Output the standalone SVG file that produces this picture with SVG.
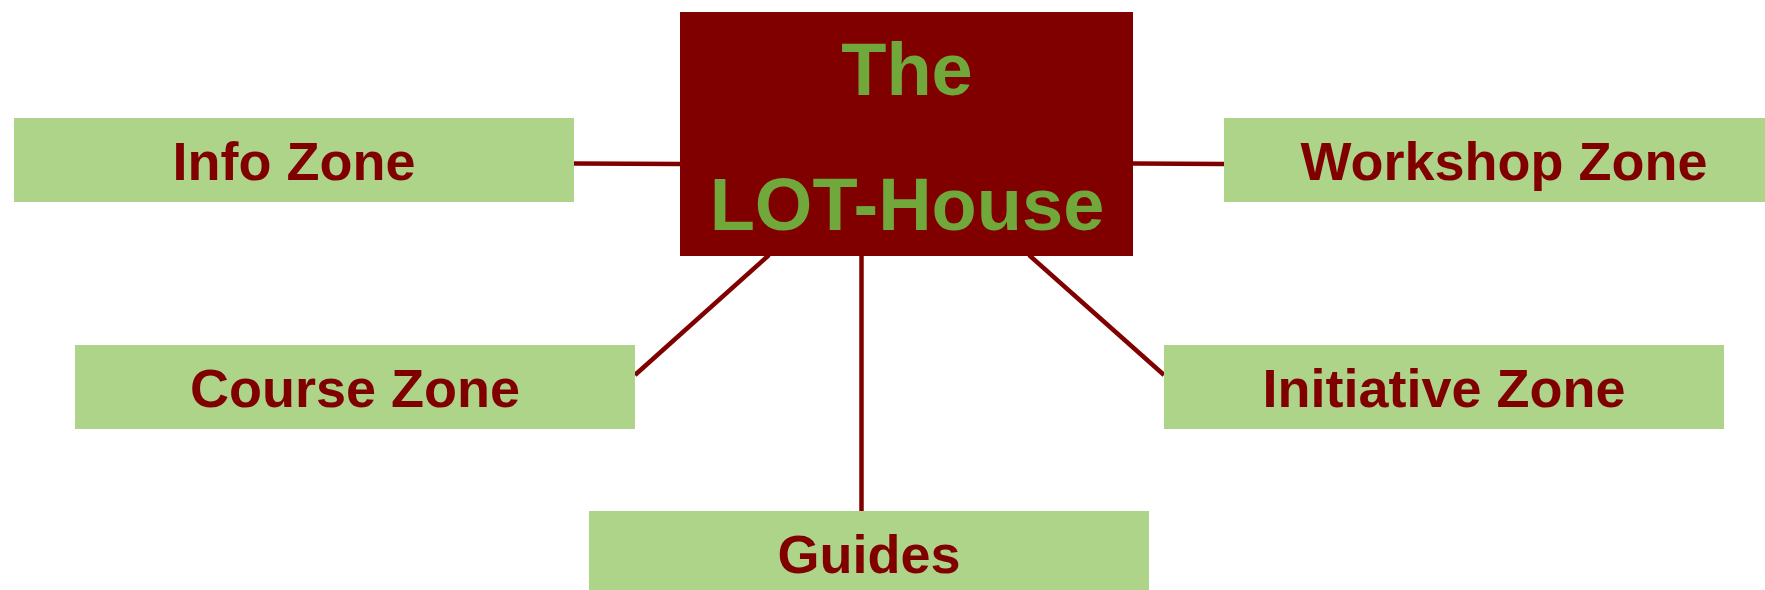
<svg xmlns="http://www.w3.org/2000/svg" width="1765" height="590" viewBox="0 0 1765 590">
<style>
.zone{fill:#aed48a;}
.zt{font-family:"Liberation Sans",Arial,sans-serif;font-weight:bold;font-size:54px;fill:#800000;text-anchor:middle;}
.ct{font-family:"Liberation Sans",Arial,sans-serif;font-weight:bold;font-size:74px;fill:#70a83c;text-anchor:middle;}
.conn line{stroke:#800000;stroke-width:4.5;fill:none;}
</style>
<rect width="1765" height="590" fill="#ffffff"/>
<g id="connectors" class="conn">
<line x1="574" y1="163.5" x2="681" y2="164"/>
<line x1="1133" y1="163.5" x2="1224" y2="164"/>
<line x1="769" y1="255" x2="635" y2="375"/>
<line x1="861.5" y1="255" x2="861.5" y2="511"/>
<line x1="1029" y1="255" x2="1164" y2="375"/>
</g>
<g id="center">
<rect x="680" y="12" width="453" height="244" fill="#800000"/>
<text class="ct" x="907" y="95">The</text>
<text class="ct" x="907" y="230">LOT-House</text>
</g>
<g id="info">
<rect class="zone" x="14" y="118" width="560" height="84"/>
<text class="zt" x="294" y="180">Info Zone</text>
</g>
<g id="workshop">
<rect class="zone" x="1224" y="118" width="560" height="84"/>
<text class="zt" x="1504" y="180">Workshop Zone</text>
</g>
<g id="course">
<rect class="zone" x="75" y="345" width="560" height="84"/>
<text class="zt" x="355" y="407">Course Zone</text>
</g>
<g id="initiative">
<rect class="zone" x="1164" y="345" width="560" height="84"/>
<text class="zt" x="1444" y="407">Initiative Zone</text>
</g>
<g id="guides">
<rect class="zone" x="589" y="511" width="560" height="84"/>
<text class="zt" x="869" y="573">Guides</text>
</g>
</svg>
